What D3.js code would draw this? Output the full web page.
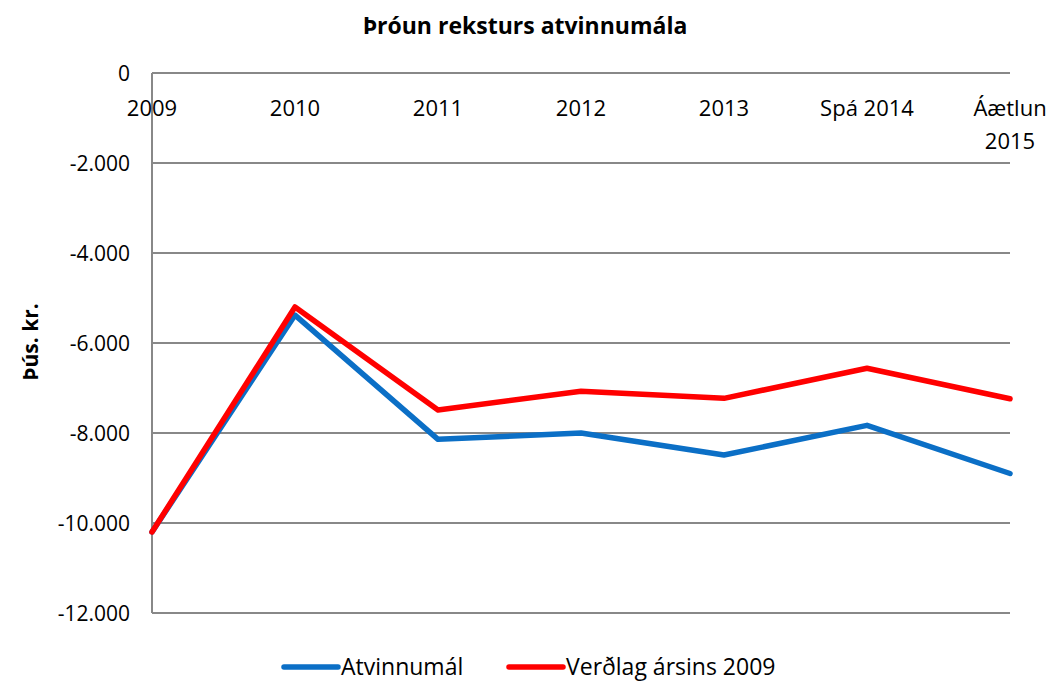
<!DOCTYPE html>
<html>
<head>
<meta charset="utf-8">
<script src="https://cdn.jsdelivr.net/npm/d3@7"></script>
<style>
  body { margin: 0; background: #fff; }
  text { font-family: "Open Sans", Lato, sans-serif; fill: #000; }
</style>
</head>
<body>
<svg id="chart" width="1054" height="682"></svg>
<script>
const categories = ["2009", "2010", "2011", "2012", "2013", "Spá 2014", "Áætlun 2015"];
const atvinnumal = [-10200, -5380, -8140, -8000, -8490, -7830, -8900];
const verdlag = [-10200, -5200, -7490, -7070, -7230, -6560, -7240];
const yTicks = [0, -2000, -4000, -6000, -8000, -10000, -12000];

const svg = d3.select("#chart");
const plotLeft = 152, plotRight = 1010, plotTop = 73, plotBottom = 613;

const x = d3.scalePoint().domain(categories).range([plotLeft, plotRight]);
const y = d3.scaleLinear().domain([-12000, 0]).range([plotBottom, plotTop]);

const fmt = v => v === 0 ? "0" : d3.format(",")(v).replace(/,/g, ".").replace("−", "-");

// gridlines
svg.append("g").selectAll("line")
  .data(yTicks)
  .enter().append("line")
  .attr("x1", plotLeft).attr("x2", plotRight)
  .attr("y1", d => y(d)).attr("y2", d => y(d))
  .attr("stroke", "#888").attr("stroke-width", 2);

// y axis line
svg.append("line")
  .attr("x1", plotLeft).attr("x2", plotLeft)
  .attr("y1", plotTop).attr("y2", plotBottom)
  .attr("stroke", "#888").attr("stroke-width", 2);

// y tick labels
svg.append("g").selectAll("text")
  .data(yTicks)
  .enter().append("text")
  .attr("x", 130)
  .attr("y", d => y(d) + 8)
  .attr("text-anchor", "end")
  .style("font-size", "21px")
  .text(fmt);

// x labels (axis at top, labels below it)
svg.append("g").selectAll("text")
  .data(categories)
  .enter().append("text")
  .attr("text-anchor", "middle")
  .style("font-size", "22px")
  .attr("transform", d => `translate(${x(d)},116)`)
  .each(function (d) {
    const parts = d.startsWith("Áætlun") ? d.split(" ") : [d];
    d3.select(this).selectAll("tspan")
      .data(parts)
      .enter().append("tspan")
      .attr("x", 0)
      .attr("dy", (p, i) => i === 0 ? 0 : 33)
      .text(p => p);
  });

// title
svg.append("text")
  .attr("x", 525).attr("y", 34)
  .attr("text-anchor", "middle")
  .style("font-size", "23px").style("font-weight", "bold")
  .text("Þróun reksturs atvinnumála");

// y axis title
svg.append("text")
  .attr("transform", "translate(38,342) rotate(-90)")
  .attr("text-anchor", "middle")
  .style("font-size", "21px").style("font-weight", "bold")
  .text("Þús. kr.");

const line = d3.line()
  .x((d, i) => x(categories[i]))
  .y(d => y(d));

const series = [
  { name: "Atvinnumál", values: atvinnumal, color: "#0B6FC6" },
  { name: "Verðlag ársins 2009", values: verdlag, color: "#FF0000" }
];

svg.append("g").selectAll("path")
  .data(series)
  .enter().append("path")
  .attr("d", d => line(d.values))
  .attr("fill", "none")
  .attr("stroke", d => d.color)
  .attr("stroke-width", 5.5)
  .attr("stroke-linejoin", "round")
  .attr("stroke-linecap", "round");

// legend
const legendX = [284, 509];
const legend = svg.append("g").selectAll("g")
  .data(series)
  .enter().append("g")
  .attr("transform", (d, i) => `translate(${legendX[i]},667)`);
legend.append("line")
  .attr("x1", 0).attr("x2", 54)
  .attr("stroke", d => d.color).attr("stroke-width", 5.5)
  .attr("stroke-linecap", "round");
legend.append("text")
  .attr("x", 57).attr("y", 8)
  .style("font-size", "23px")
  .text(d => d.name);
</script>
</body>
</html>
